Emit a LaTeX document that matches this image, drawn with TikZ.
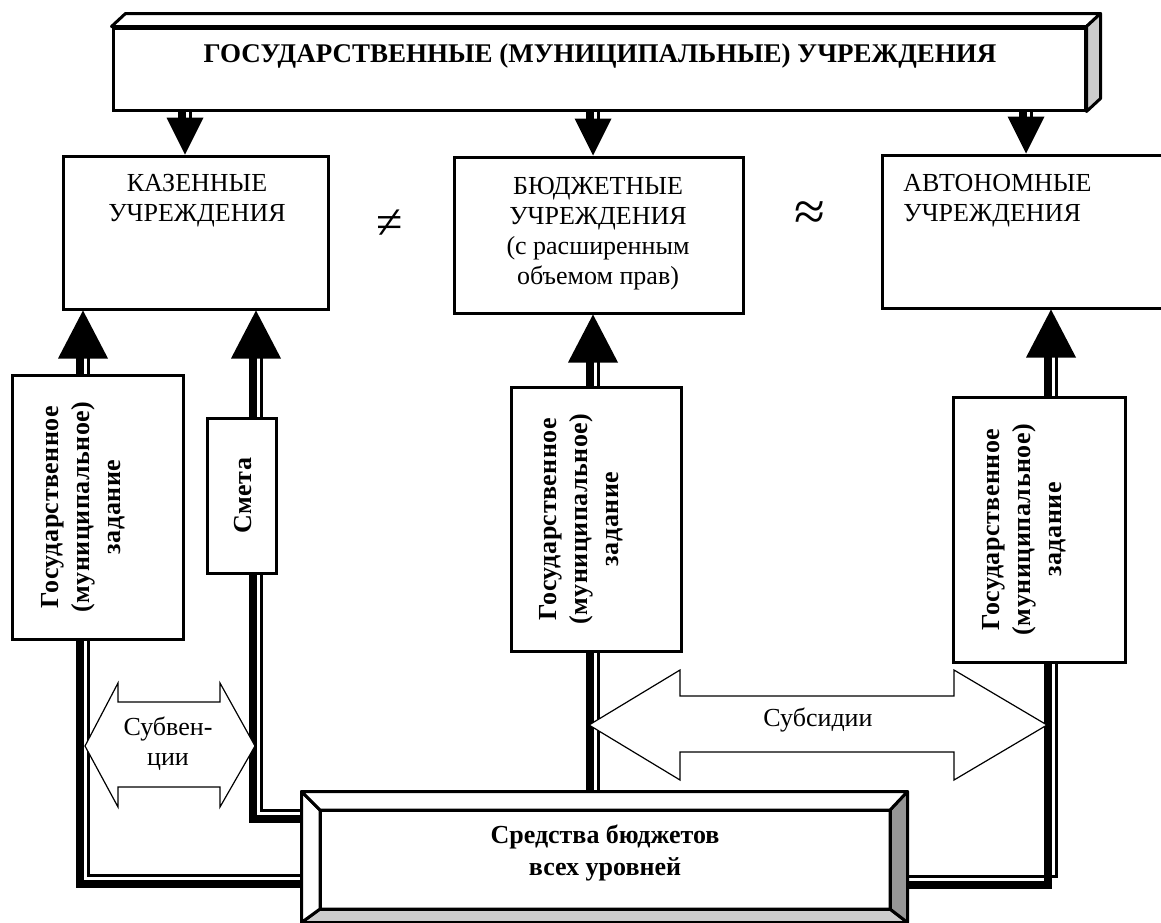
\documentclass[tikz,border=0pt]{standalone}
\usepackage{fontspec}
\setmainfont{Liberation Serif}
\usetikzlibrary{backgrounds}
\tikzset{>=latex}
\definecolor{sideface}{RGB}{204,204,204}
\definecolor{darkface}{RGB}{150,150,150}
\tikzset{
  box/.style={draw, line width=1.5pt, fill=white, inner sep=0pt},
  lbl/.style={font=\fontsize{13}{15}\selectfont, align=center, inner sep=0pt},
  vlbl/.style={font=\fontsize{13}{15.5}\selectfont\bfseries\addfontfeature{LetterSpace=2}, align=center, rotate=90, inner sep=0pt},
  face/.style={line width=1.5pt, line join=round},
  thickpart/.style={line width=4pt, transform canvas={shift={(-1.75pt,-1.75pt)}}},
  thinpart/.style={line width=1.5pt, transform canvas={shift={(2.5pt,2.5pt)}}},
  blockarr/.style={draw, fill=white, line width=0.6pt, line join=miter},
}
\newcommand{\tline}[1]{\draw[thickpart] #1; \draw[thinpart] #1;}
\newcommand{\uptip}[1]{\fill (#1) -- ++(-25,48) -- ++(50,0) -- cycle;}
\newcommand{\downtip}[1]{\fill (#1) -- ++(-18.5,-37) -- ++(37,0) -- cycle;}

\begin{document}
\begin{tikzpicture}[x=0.5pt, y=-0.5pt]
\useasboundingbox (0,0) rectangle (1161,922);

% top box
\node[box, minimum width=486pt, minimum height=41pt] (gov) at (599,69) {};
\filldraw[face, fill=white] (gov.north west) -- ++(14,-13) -- ([xshift=7pt,yshift=6.5pt]gov.north east) -- (gov.north east) -- cycle;
\filldraw[face, fill=sideface] (gov.north east) -- ++(14,-13) -- ([xshift=7pt,yshift=6.5pt]gov.south east) -- (gov.south east) -- cycle;
\node[font=\fontsize{13.5}{16}\selectfont\bfseries, inner sep=0pt] (govt) at (600,56) {ГОСУДАРСТВЕННЫЕ (МУНИЦИПАЛЬНЫЕ) УЧРЕЖДЕНИЯ};

% types of institutions
\node[box, minimum width=132.5pt, minimum height=76.5pt] (kaz) at (195.5,232.5) {};
\node[lbl] (kazt) at (197,201) {КАЗЕННЫЕ\\УЧРЕЖДЕНИЯ};
\node[box, minimum width=144.5pt, minimum height=78pt] (bud) at (598.5,235) {};
\node[lbl] (budt) at (598,233.5) {БЮДЖЕТНЫЕ\\УЧРЕЖДЕНИЯ\\(с расширенным\\объемом прав)};
\node[box, minimum width=149pt, minimum height=76.5pt] (aut) at (1031,231.5) {};
\node[lbl, align=left, anchor=west] (autt) at (903,201) {АВТОНОМНЫЕ\\УЧРЕЖДЕНИЯ};
\node[font=\fontsize{24}{26}\selectfont, inner sep=0pt] (neq) at (390,224) {≠};
\node[font=\fontsize{28}{30}\selectfont, inner sep=0pt] (approx) at (810,216) {≈};

% tasks
\node[box, minimum width=85.5pt, minimum height=132pt] (gz1) at (97.5,507) {};
\node[vlbl] (gz1t) at (83,507) {Государственное\\(муниципальное)\\задание};
\node[box, minimum width=34.5pt, minimum height=77.5pt] (smeta) at (241.5,495.5) {};
\node[vlbl] (smetat) at (243,495.5) {Смета};
\node[box, minimum width=85pt, minimum height=132pt] (gz2) at (596,519) {};
\node[vlbl] (gz2t) at (581,519) {Государственное\\(муниципальное)\\задание};
\node[box, minimum width=86pt, minimum height=132.5pt] (gz3) at (1039,529.5) {};
\node[vlbl] (gz3t) at (1024,529.5) {Государственное\\(муниципальное)\\задание};

% budget funds
\node[box, minimum width=301.5pt, minimum height=64pt] (funds) at (604.5,857) {};
\coordinate (fnw) at (320,810);
\coordinate (fne) at (890,810);
\coordinate (fsw) at (320,909);
\coordinate (fse) at (890,909);
\filldraw[face, fill=sideface] (funds.south west) -- (fsw) -- (fse) -- (funds.south east) -- cycle;
\filldraw[face, fill=darkface] (funds.north east) -- (fne) -- (fse) -- (funds.south east) -- cycle;
\filldraw[face, fill=white] (funds.north west) -- (fnw) -- (fsw) -- (funds.south west) -- cycle;
\filldraw[face, fill=white] (funds.north west) -- (fnw) -- (fne) -- (funds.north east) -- cycle;
\draw[face] (fnw) rectangle (fse);
\node[lbl, font=\fontsize{13}{16}\selectfont\bfseries] (fundst) at (605,853) {Средства бюджетов\\всех уровней};

% stem positions
\coordinate (t1) at (185,0);
\coordinate (t2) at (593,0);
\coordinate (t3) at (1026,0);
\coordinate (x1) at (83,0);
\coordinate (x2) at (256,0);
\coordinate (x3) at (593,0);
\coordinate (x4) at (1051,0);
\coordinate (k1) at (83,880);
\coordinate (k2) at (256,815);
\coordinate (k4) at (1051,881);

\begin{scope}[on background layer]
  \tline{(gov.center -| t1) -- ([yshift=-7.5pt]gov.south -| t1)}
  \tline{(gov.center -| t2) -- ([yshift=-7.5pt]gov.south -| t2)}
  \tline{(gov.center -| t3) -- ([yshift=-7.5pt]gov.south -| t3)}
  \tline{(gz1.center -| x1) -- ([yshift=-21pt]kaz.south -| x1)}
  \tline{(smeta.center -| x2) -- ([yshift=-21pt]kaz.south -| x2)}
  \tline{(gz2.center -| x3) -- ([yshift=-21pt]bud.south -| x3)}
  \tline{(gz3.center -| x4) -- ([yshift=-21pt]aut.south -| x4)}
  \tline{(gz1.center -| k1) -- (k1) -- (k1 -| funds.center)}
  \tline{(smeta.center -| k2) -- (k2) -- (k2 -| funds.center)}
  \tline{(gz2.center -| x3) -- (funds.center -| x3)}
  \tline{(gz3.center -| k4) -- (k4) -- (k4 -| funds.center)}
\end{scope}

\downtip{kaz.north -| t1}
\downtip{bud.north -| t2}
\downtip{aut.north -| t3}
\uptip{kaz.south -| x1}
\uptip{kaz.south -| x2}
\uptip{bud.south -| x3}
\uptip{aut.south -| x4}

% transfers
\draw[blockarr] (85,746) -- (118,683) -- (118,702) -- (220,702) -- (220,683) -- (255,746)
  -- (220,807) -- (220,787) -- (118,787) -- (118,807) -- cycle;
\node[lbl] (subv) at (168,744) {Субвен-\\ции};
\draw[blockarr] (589,725) -- (680,670) -- (680,696) -- (954,696) -- (954,670) -- (1047,725)
  -- (954,780) -- (954,752) -- (680,752) -- (680,780) -- cycle;
\node[lbl] (subs) at (818,720) {Субсидии};
\end{tikzpicture}
\end{document}
